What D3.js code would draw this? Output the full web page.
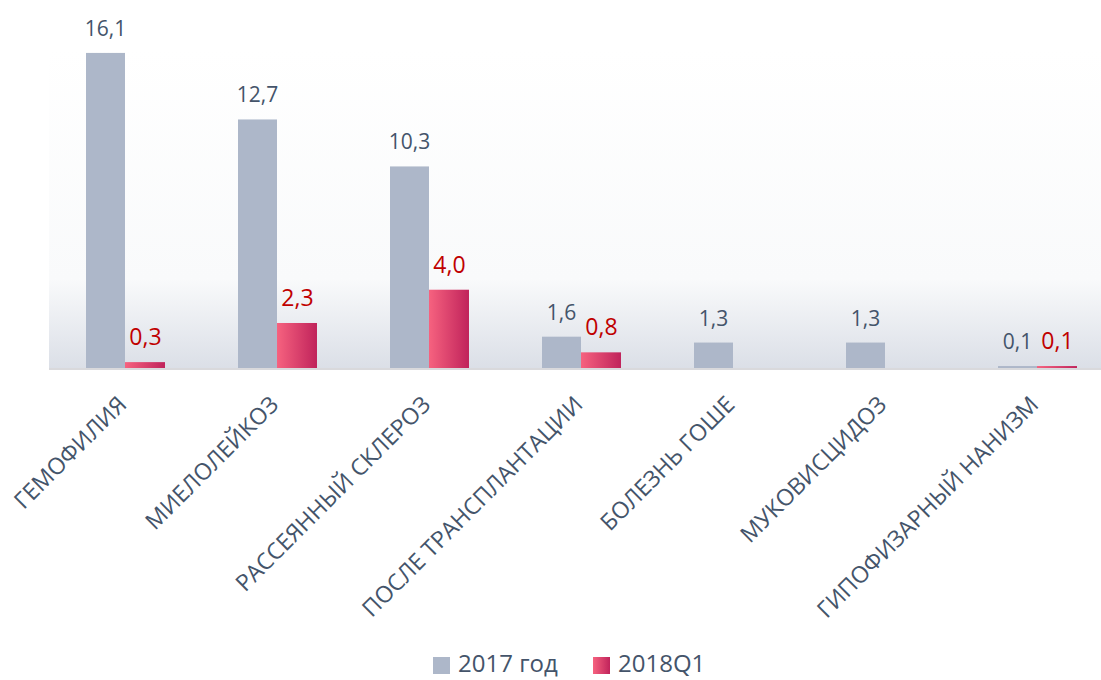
<!DOCTYPE html>
<html>
<head>
<meta charset="utf-8">
<script src="https://cdn.jsdelivr.net/npm/d3@7"></script>
<style>
  body { margin: 0; background: #ffffff; }
  svg { display: block; font-family: "Open Sans", sans-serif; }
</style>
</head>
<body>
<div id="chart"></div>
<script>
var categories = ["ГЕМОФИЛИЯ", "МИЕЛОЛЕЙКОЗ", "РАССЕЯННЫЙ СКЛЕРОЗ", "ПОСЛЕ ТРАНСПЛАНТАЦИИ",
    "БОЛЕЗНЬ ГОШЕ", "МУКОВИСЦИДОЗ", "ГИПОФИЗАРНЫЙ НАНИЗМ"];
var seriesNames = ["2017 год", "2018Q1"];
var values2017 = [16.1, 12.7, 10.3, 1.6, 1.3, 1.3, 0.1];
var values2018 = [0.3, 2.3, 4.0, 0.8, null, null, 0.1];

var width = 1101;
var height = 680;
var baseY = 368;

var svg = d3.select("#chart").append("svg")
    .attr("width", width)
    .attr("height", height);

var defs = svg.append("defs");

var bgGrad = defs.append("linearGradient")
    .attr("id", "bgGrad")
    .attr("x1", 0).attr("y1", 0).attr("x2", 0).attr("y2", 1);
bgGrad.append("stop").attr("offset", 0).attr("stop-color", "#ffffff");
bgGrad.append("stop").attr("offset", 0.72).attr("stop-color", "#f9fafb");
bgGrad.append("stop").attr("offset", 1).attr("stop-color", "#dbdfe7");

var pinkGrad = defs.append("linearGradient")
    .attr("id", "pinkGrad")
    .attr("x1", 0).attr("y1", 0).attr("x2", 1).attr("y2", 0);
pinkGrad.append("stop").attr("offset", 0).attr("stop-color", "#f6627f");
pinkGrad.append("stop").attr("offset", 1).attr("stop-color", "#c0235b");

// x scale: step 152, group of two bars 78 wide
var x = d3.scaleBand()
    .domain(categories)
    .range([49, 49 + 152 * 7])
    .paddingInner(0.487)
    .paddingOuter(0.2435);

var xSeries = d3.scaleBand()
    .domain(seriesNames)
    .range([0, x.bandwidth()]);

var y = d3.scaleLinear()
    .domain([0, 18])
    .range([baseY, baseY - 18 * 19.57]);

// plot background
svg.append("rect")
    .attr("x", 49)
    .attr("y", 50)
    .attr("width", width - 49)
    .attr("height", baseY - 50)
    .attr("fill", "url(#bgGrad)");

var rows = categories.map(function (c, i) {
    return { cat: c, a: values2017[i], b: values2018[i] };
});

var g = svg.selectAll(".cat")
    .data(rows)
    .enter().append("g")
    .attr("class", "cat")
    .attr("transform", function (d) { return "translate(" + x(d.cat) + ",0)"; });

// 2017 bars
g.append("rect")
    .attr("x", xSeries(seriesNames[0]))
    .attr("y", function (d) { return y(d.a); })
    .attr("width", xSeries.bandwidth())
    .attr("height", function (d) { return baseY - y(d.a); })
    .attr("fill", "#adb7c9");

g.append("text")
    .attr("x", xSeries(seriesNames[0]) + xSeries.bandwidth() / 2)
    .attr("y", function (d) { return y(d.a) - 17; })
    .attr("text-anchor", "middle")
    .attr("font-size", "21px")
    .attr("fill", "#44546a")
    .text(function (d) { return d3.format(".1f")(d.a).replace(".", ","); });

// 2018Q1 bars
var g2 = g.filter(function (d) { return d.b != null; });

g2.append("rect")
    .attr("x", xSeries(seriesNames[1]))
    .attr("y", function (d) { return y(d.b); })
    .attr("width", xSeries.bandwidth() + 1)
    .attr("height", function (d) { return Math.max(1, baseY - y(d.b)); })
    .attr("fill", "url(#pinkGrad)");

g2.append("text")
    .attr("x", xSeries(seriesNames[1]) + xSeries.bandwidth() / 2 + 1)
    .attr("y", function (d) { return y(d.b) - 17; })
    .attr("text-anchor", "middle")
    .attr("font-size", "23px")
    .attr("fill", "#c00000")
    .text(function (d) { return d3.format(".1f")(d.b).replace(".", ","); });

// baseline
svg.append("line")
    .attr("x1", 49).attr("x2", width)
    .attr("y1", baseY + 1).attr("y2", baseY + 1)
    .attr("stroke", "#d9d9dc")
    .attr("stroke-width", 2);

// category labels
svg.selectAll(".catLabel")
    .data(categories)
    .enter().append("text")
    .attr("class", "catLabel")
    .attr("transform", function (d) {
        return "translate(" + (x(d) + x.bandwidth() / 2 + 3) + "," + (baseY + 38) + ") rotate(-45)";
    })
    .attr("text-anchor", "end")
    .attr("font-size", "23px")
    .attr("fill", "#44546a")
    .text(function (d) { return d; });

// legend
var legend = [
    { name: seriesNames[0], fill: "#adb7c9", x: 433 },
    { name: seriesNames[1], fill: "url(#pinkGrad)", x: 593 }
];
var lg = svg.selectAll(".legend")
    .data(legend)
    .enter().append("g")
    .attr("class", "legend")
    .attr("transform", function (d) { return "translate(" + d.x + ",0)"; });

lg.append("rect")
    .attr("x", 0).attr("y", 657)
    .attr("width", 17).attr("height", 17)
    .attr("fill", function (d) { return d.fill; });

lg.append("text")
    .attr("x", 25).attr("y", 672)
    .attr("font-size", "24px")
    .attr("fill", "#44546a")
    .text(function (d) { return d.name; });
</script>
</body>
</html>
